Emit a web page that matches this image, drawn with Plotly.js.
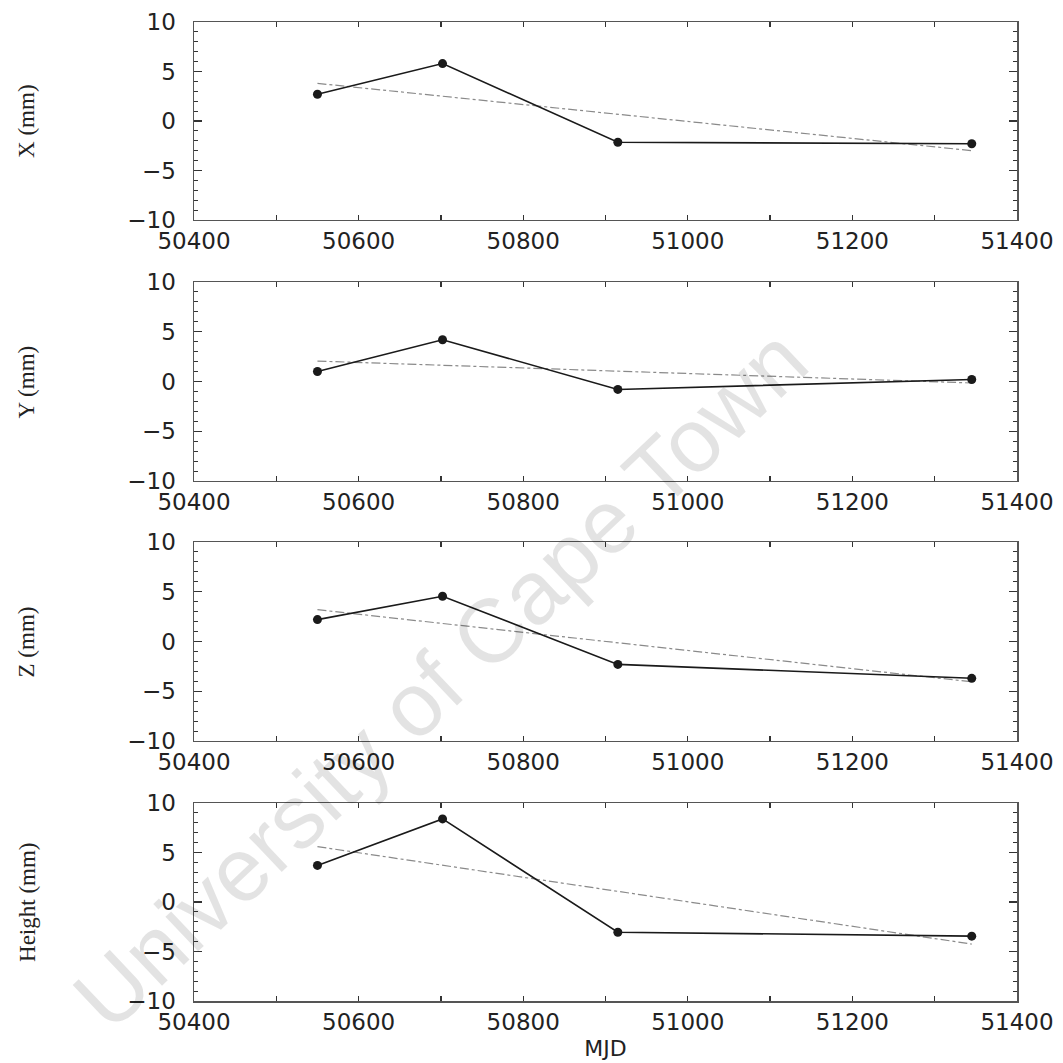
<!DOCTYPE html>
<html>
<head>
<meta charset="utf-8">
<script src="https://cdn.plot.ly/plotly-3.0.1.min.js"></script>
<style>html,body{margin:0;padding:0;background:#fff;}#chart{width:1063px;height:1063px;}</style>
</head>
<body>
<div id="chart"></div>
<script>
// MJD epochs of the four solutions
var mjd = [50550, 50702, 50915, 51345];
// Coordinate residuals (mm)
var xVals = [2.7, 5.8, -2.15, -2.3];
var yVals = [1.0, 4.2, -0.8, 0.2];
var zVals = [2.2, 4.55, -2.3, -3.7];
var hVals = [3.7, 8.4, -3.05, -3.45];
// Trend lines (end points)
var trendMjd = [50550, 51345];
var xTrend = [3.8, -3.0];
var yTrend = [2.05, -0.15];
var zTrend = [3.2, -4.05];
var hTrend = [5.6, -4.25];
// Labels
var panelTitles = ["X (mm)", "Y (mm)", "Z (mm)", "Height (mm)"];
var xTitle = "MJD";
var watermark = "University of Cape Town";

var series = [xVals, yVals, zVals, hVals];
var trends = [xTrend, yTrend, zTrend, hTrend];
var domains = [[0.7978, 1.0], [0.5312, 0.7344], [0.2656, 0.4688], [0.0, 0.2022]];

var traces = [];
var layout = {
  width: 1063, height: 1063,
  margin: {l: 194, r: 46, t: 22, b: 62},
  paper_bgcolor: "#ffffff", plot_bgcolor: "#ffffff",
  showlegend: false,
  font: {family: "DejaVu Sans, Liberation Sans, sans-serif", size: 23, color: "#222"},
  annotations: []
};

for (var i = 0; i < 4; i++) {
  var sfx = i === 0 ? "" : String(i + 1);
  traces.push({
    x: trendMjd, y: trends[i], xaxis: "x" + sfx, yaxis: "y" + sfx,
    mode: "lines", line: {color: "#8a8a8a", width: 1.2, dash: "dashdot"},
    hoverinfo: "skip"
  });
  traces.push({
    x: mjd, y: series[i], xaxis: "x" + sfx, yaxis: "y" + sfx,
    mode: "lines+markers", line: {color: "#1a1a1a", width: 1.6},
    marker: {color: "#1a1a1a", size: 9, symbol: "circle"}
  });
  layout["xaxis" + sfx] = {
    domain: [0, 1], anchor: "y" + sfx, range: [50400, 51400],
    tickmode: "linear", tick0: 50400, dtick: 200,
    tickformat: "d", exponentformat: "none", separatethousands: false,
    ticks: "inside", ticklen: 5, tickwidth: 1.2, tickcolor: "#333",
    minor: {dtick: 100, ticks: "inside", ticklen: 5, tickwidth: 1.2, tickcolor: "#333"},
    showline: true, linecolor: "#555", linewidth: 1.5, mirror: "allticks",
    showgrid: false, zeroline: false,
    tickfont: {family: "DejaVu Sans, sans-serif", size: 23, color: "#222"},
    ticklabelstandoff: 0
  };
  layout["yaxis" + sfx] = {
    domain: domains[i], anchor: "x" + sfx, range: [-10, 10],
    tickmode: "linear", tick0: -10, dtick: 5,
    ticks: "inside", ticklen: 8, tickwidth: 1.2, tickcolor: "#333",
    minor: {dtick: 1, ticks: "inside", ticklen: 4, tickwidth: 1, tickcolor: "#333"},
    showline: true, linecolor: "#555", linewidth: 1.5, mirror: "allticks",
    showgrid: false, zeroline: false,
    tickfont: {family: "DejaVu Sans, sans-serif", size: 23, color: "#222"},
    ticklabelstandoff: 12
  };
  layout.annotations.push({
    text: panelTitles[i], xref: "paper", yref: "paper",
    x: -0.203, y: (domains[i][0] + domains[i][1]) / 2,
    xanchor: "center", yanchor: "middle", textangle: -90, showarrow: false,
    font: {family: "Liberation Serif, Times New Roman, serif", size: 23, color: "#222"}
  });
}

layout.xaxis4.title = {text: xTitle, font: {family: "DejaVu Sans, sans-serif", size: 22, color: "#222"}, standoff: 6};

layout.annotations.push({
  text: watermark, xref: "paper", yref: "paper",
  x: 0.299, y: 0.329, xanchor: "center", yanchor: "middle",
  textangle: -43.5, showarrow: false,
  font: {family: "Liberation Sans, Arial, sans-serif", size: 90, color: "rgba(0,0,0,0.11)"}
});

Plotly.newPlot("chart", traces, layout, {displayModeBar: false, staticPlot: true});
</script>
</body>
</html>
